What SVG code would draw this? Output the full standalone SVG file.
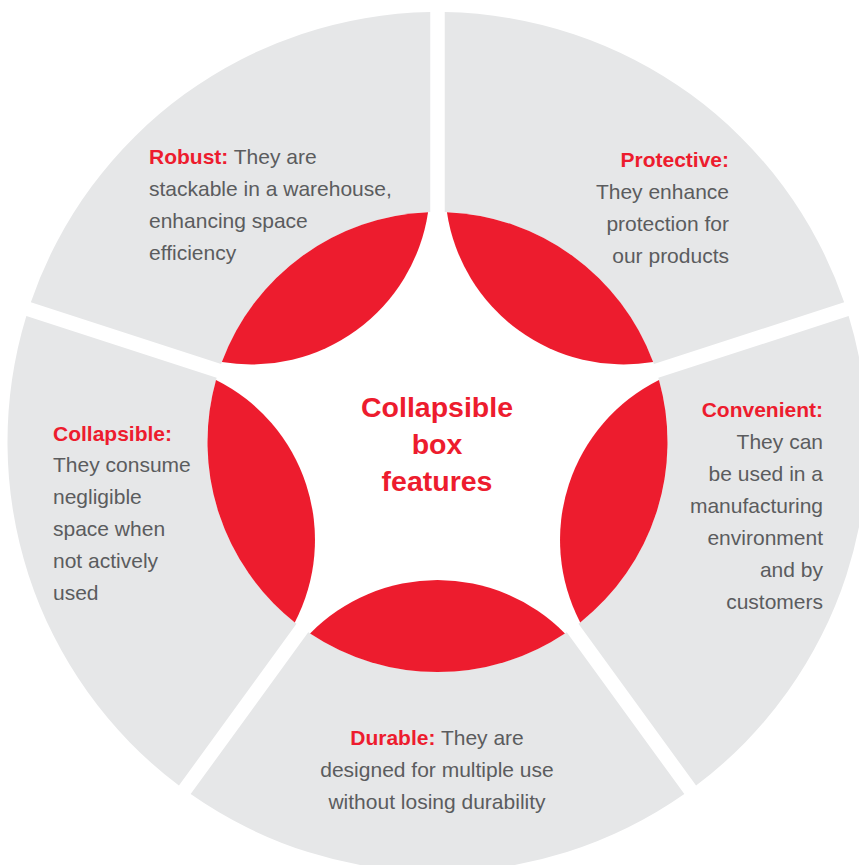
<svg xmlns="http://www.w3.org/2000/svg" width="859" height="865" viewBox="0 0 859 865">
<style>
.sector{fill:#e6e7e8}
.lens{fill:#ed1c2e}
.t{font-family:"Liberation Sans",Arial,sans-serif;font-size:21px;fill:#5b5c5e}
.b{font-weight:bold;fill:#ed1c2e}
.c{font-family:"Liberation Sans",Arial,sans-serif;font-size:28.5px;font-weight:bold;fill:#ed1c2e;text-anchor:middle}
</style>
<defs>
<path id="sectorShape" d="M 7.25 -229.886 L 7.25 -429.94 A 430 430 0 0 1 406.66 -139.76 L 216.40 -77.94 A 230 230 0 0 0 7.25 -229.886 Z"/>
<path id="lensShape" d="M 9.43 -229.81 A 230 230 0 0 1 215.65 -79.99 A 178.7 178.7 0 0 1 9.43 -229.81 Z"/>
</defs>
<rect x="0" y="0" width="859" height="865" fill="#ffffff"/>
<g id="protective">
<use href="#sectorShape" class="sector" transform="translate(437.5,442) rotate(0)"/>
<use href="#lensShape" class="lens" transform="translate(437.5,442) rotate(0)"/>
<text class="t" text-anchor="end"><tspan class="b" x="729" y="167">Protective:</tspan><tspan x="729" y="199">They enhance</tspan><tspan x="729" y="231">protection for</tspan><tspan x="729" y="263">our products</tspan></text>
</g>
<g id="convenient">
<use href="#sectorShape" class="sector" transform="translate(437.5,442) rotate(72)"/>
<use href="#lensShape" class="lens" transform="translate(437.5,442) rotate(72)"/>
<text class="t" text-anchor="end"><tspan class="b" x="823" y="417">Convenient:</tspan><tspan x="823" y="449">They can</tspan><tspan x="823" y="481">be used in a</tspan><tspan x="823" y="513">manufacturing</tspan><tspan x="823" y="545">environment</tspan><tspan x="823" y="577">and by</tspan><tspan x="823" y="609">customers</tspan></text>
</g>
<g id="durable">
<use href="#sectorShape" class="sector" transform="translate(437.5,442) rotate(144)"/>
<use href="#lensShape" class="lens" transform="translate(437.5,442) rotate(144)"/>
<text class="t" text-anchor="middle"><tspan x="437" y="745"><tspan class="b">Durable:</tspan> They are</tspan><tspan x="437" y="777">designed for multiple use</tspan><tspan x="437" y="809">without losing durability</tspan></text>
</g>
<g id="collapsible">
<use href="#sectorShape" class="sector" transform="translate(437.5,442) rotate(216)"/>
<use href="#lensShape" class="lens" transform="translate(437.5,442) rotate(216)"/>
<text class="t"><tspan class="b" x="53" y="441">Collapsible:</tspan><tspan x="53" y="472">They consume</tspan><tspan x="53" y="504">negligible</tspan><tspan x="53" y="536">space when</tspan><tspan x="53" y="568">not actively</tspan><tspan x="53" y="600">used</tspan></text>
</g>
<g id="robust">
<use href="#sectorShape" class="sector" transform="translate(437.5,442) rotate(288)"/>
<use href="#lensShape" class="lens" transform="translate(437.5,442) rotate(288)"/>
<text class="t"><tspan x="149" y="164"><tspan class="b">Robust:</tspan> They are</tspan><tspan x="149" y="196">stackable in a warehouse,</tspan><tspan x="149" y="228">enhancing space</tspan><tspan x="149" y="260">efficiency</tspan></text>
</g>
<g id="center">
<text class="c"><tspan x="437" y="417">Collapsible</tspan><tspan x="437" y="454">box</tspan><tspan x="437" y="491">features</tspan></text>
</g>
<g id="connectors"/>
</svg>
